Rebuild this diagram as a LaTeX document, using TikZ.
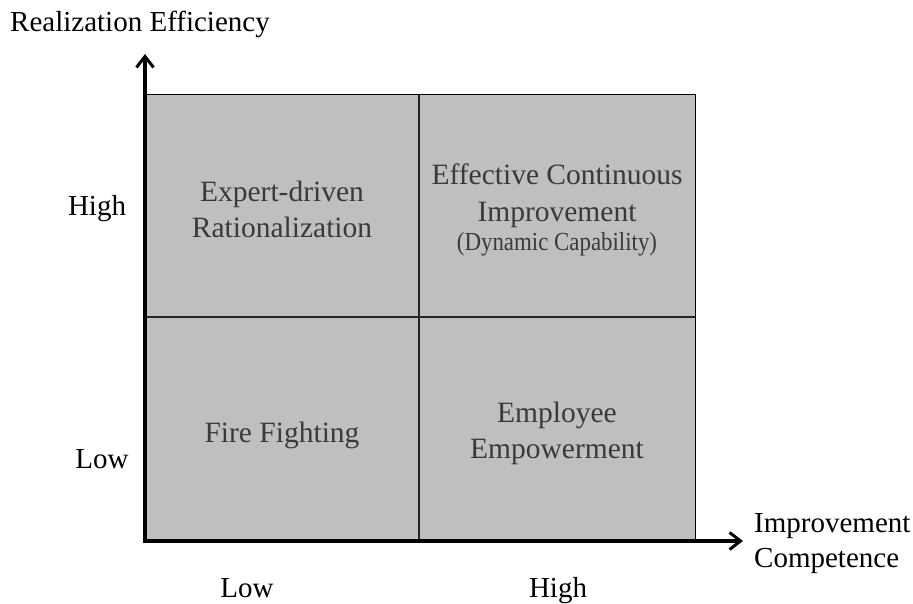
\documentclass[tikz,border=0pt]{standalone}
\usepackage{fontspec}
\setmainfont{Liberation Serif}
\usetikzlibrary{arrows.meta}
\definecolor{cellfill}{HTML}{BFBFBF}
\definecolor{celltext}{HTML}{3A3A3A}
\tikzset{
  axis/.style={line width=3.2pt, -{Straight Barb[length=11pt,width=17pt,line width=3pt]}},
  divider/.style={line width=2pt, draw=black!85},
  lbl/.style={font=\fontsize{29}{35}\selectfont, text=black, inner sep=0pt, anchor=base},
  cell/.style={font=\fontsize{29.5}{35.5}\selectfont, text=celltext, inner sep=0pt, anchor=base}
}
\begin{document}
\begin{tikzpicture}[x=1pt,y=-1pt]
\useasboundingbox (0,0) rectangle (913,604);
\fill[cellfill] (145,95) rectangle (695,540);
\draw[line width=1pt] (145,95) rectangle (695,540);
\coordinate (vt) at (419,95);
\coordinate (vb) at (419,540);
\coordinate (hl) at (145,317);
\coordinate (hr) at (695,317);
\draw[divider] (vt) -- (vb);
\draw[divider] (hl) -- (hr);
\coordinate (o) at (145,541);
\coordinate (yend) at (145,54);
\coordinate (xend) at (743,541);
\coordinate (o2) at (143.4,541);
\draw[axis] (o) -- (yend);
\draw[axis] (o2) -- (xend);
\node[lbl, anchor=base west] (ytitle) at (10,32) {Realization Efficiency};
\node[lbl, anchor=base west] (xtitle1) at (754,532) {Improvement};
\node[lbl, anchor=base west] (xtitle2) at (754,567) {Competence};
\node[lbl] (yhigh) at (97,215) {High};
\node[lbl] (ylow) at (102,468) {Low};
\node[lbl] (xlow) at (247,597) {Low};
\node[lbl] (xhigh) at (558,597) {High};
\node[cell] (q1a) at (282,202) {Expert-driven};
\node[cell] (q1b) at (282,237) {Rationalization};
\node[cell] (q2a) at (557,185) {Effective Continuous};
\node[cell] (q2b) at (557,222) {Improvement};
\node[cell] (q2c) at (557,251) {\scalebox{0.88}[1]{\fontsize{26}{30}\selectfont(Dynamic Capability)}};
\node[cell] (q3) at (282,442) {Fire Fighting};
\node[cell] (q4a) at (557,422) {Employee};
\node[cell] (q4b) at (557,458) {Empowerment};
\end{tikzpicture}
\end{document}
